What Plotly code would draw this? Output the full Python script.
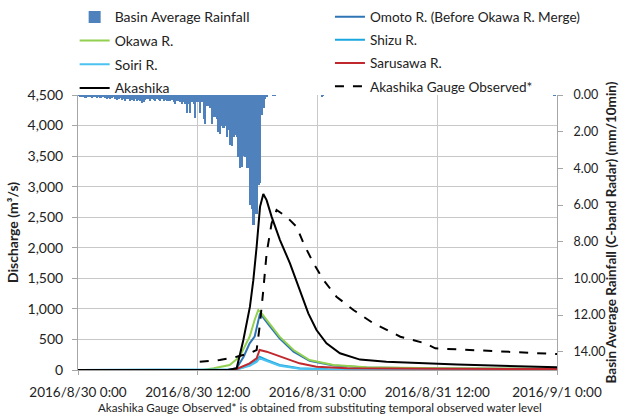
import pandas as pd
import plotly.graph_objects as go

START = pd.Timestamp("2016-08-30 00:00")

# ---------------- data ----------------
# Basin average rainfall (mm/10min), 10-minute steps from 2016/8/30 0:00
rain_values = [
    0.05, 0.1, 0.1, 0.1, 0.15, 0.1,
    0.1, 0.1, 0.15, 0.1, 0.1, 0.15,
    0.1, 0.15, 0.1, 0.1, 0.15, 0.2,
    0.15, 0.2, 0.15, 0.1, 0.2, 0.25,
    0.2, 0.15, 0.25, 0.2, 0.3, 0.2,
    0.2, 0.3, 0.25, 0.35, 0.2, 0.3,
    0.25, 0.3, 0.45, 0.4, 0.25, 0.2,
    0.2, 0.3, 0.2, 0.25, 0.3, 0.2,
    0.25, 0.3, 0.2, 0.35, 0.25, 0.3,
    0.3, 0.35, 0.25, 0.4, 0.5, 0.35,
    0.3, 0.4, 0.5, 0.4, 0.5, 1.0,
    0.5, 1.0, 0.4, 0.5, 1.25, 0.4,
    0.4, 1.0, 0.4, 1.3, 1.6, 0.6,
    0.6, 0.7, 1.6, 1.2, 1.2, 1.3,
    2.0, 2.1, 1.7, 1.8, 1.7, 2.3,
    1.9, 2.7, 2.8, 2.3, 2.2, 2.3,
    3.4, 4.0, 3.9, 3.3, 3.4, 4.0,
    4.0, 6.0, 6.2, 7.1, 6.5, 6.5,
    4.9, 4.8, 1.1, 0.7, 0.2, 0.1,
]
rain_blip_times = ["2016-08-30 19:30", "2016-08-30 19:40", "2016-08-31 00:20",
                   "2016-08-31 00:30", "2016-08-31 23:40"]
rain_blip_values = [0.05, 0.05, 0.06, 0.05, 0.05]

# Discharge series: hours after 2016/8/30 0:00 and discharge (m3/s)
akashika_h = [0, 15.0, 15.9, 16.57, 17.23, 17.57, 17.9, 18.24, 18.57, 18.9, 19.4, 20.24,
              21.24, 22.24, 23.08, 23.9, 24.9, 26.25, 28.26, 30.9, 34.0, 38.0, 48.0]
akashika_q = [0, 0, 28, 490, 1036, 1470, 2017, 2670, 2880, 2780, 2510, 2127,
              1745, 1309, 927, 654, 437, 273, 170, 135, 115, 90, 45]

observed_h = [12.2, 14.2, 15.9, 17.2, 17.9, 18.2, 18.57, 18.9, 19.4, 19.9, 20.9, 21.9,
              22.6, 23.6, 24.6, 25.9, 27.6, 29.6, 32.3, 34.8, 35.8, 40.0, 44.0, 48.0]
observed_q = [136, 164, 218, 273, 327, 709, 1309, 1909, 2400, 2618, 2508, 2345,
              2073, 1745, 1472, 1200, 982, 764, 545, 436, 355, 320, 290, 260]

okawa_h = [0, 12.5, 13.6, 15.2, 16.2, 17.2, 17.7, 18.07, 18.4, 19.2, 20.2, 21.6,
           23.2, 25.6, 28.9, 36.0, 48.0]
okawa_q = [0, 0, 28, 82, 218, 545, 818, 982, 927, 764, 545, 327,
           164, 82, 44, 30, 20]

omoto_h = [0, 15.0, 15.9, 16.6, 17.2, 17.7, 18.24, 18.7, 19.2, 20.2, 21.6, 23.2,
           25.6, 28.9, 36.0, 48.0]
omoto_q = [0, 0, 30, 218, 436, 545, 927, 818, 720, 520, 300, 150,
           75, 40, 25, 15]

sarusawa_h = [0, 15.2, 15.9, 17.2, 17.9, 18.2, 18.9, 19.9, 21.2, 22.2, 23.9, 27.0, 36.0, 48.0]
sarusawa_q = [0, 0, 16, 109, 191, 327, 300, 245, 164, 109, 55, 30, 20, 15]

shizu_h = [0, 15.2, 15.9, 17.2, 17.9, 18.2, 18.9, 20.2, 22.2, 25.0, 36.0, 48.0]
shizu_q = [0, 0, 10, 82, 150, 218, 164, 82, 27, 12, 5, 3]

soiri_h = [0, 15.2, 15.9, 17.2, 17.9, 18.2, 18.9, 20.2, 22.2, 25.0, 36.0, 48.0]
soiri_q = [0, 0, 8, 70, 130, 190, 145, 70, 22, 10, 4, 2]

x_tickvals = ["2016-08-30 00:00", "2016-08-30 12:00", "2016-08-31 00:00",
              "2016-08-31 12:00", "2016-09-01 00:00"]
x_ticktext = ["2016/8/30 0:00", "2016/8/30 12:00", "2016/8/31 0:00",
              "2016/8/31 12:00", "2016/9/1 0:00"]
y_tickvals = [0, 500, 1000, 1500, 2000, 2500, 3000, 3500, 4000, 4500]
y2_tickvals = [0, 2, 4, 6, 8, 10, 12, 14]

note_text = "Akashika Gauge Observed* is obtained from substituting temporal observed water level"


def to_time(hours):
    return [START + pd.Timedelta(hours=h) for h in hours]


rain_times = [START + pd.Timedelta(minutes=10 * i + 5) for i in range(len(rain_values))]
rain_times += [pd.Timestamp(t) + pd.Timedelta(minutes=5) for t in rain_blip_times]
rain_all = rain_values + rain_blip_values

FONT = "Lato"
GRID = "#c8c8c8"
TXT = "#222222"

fig = go.Figure()

fig.add_trace(go.Bar(
    x=rain_times, y=rain_all, yaxis="y2", name="Basin Average Rainfall",
    marker=dict(color="#4f81bd", line=dict(width=0)), width=760000,
    legend="legend", legendgroup="a",
))

lines = [
    ("Omoto R. (Before Okawa R. Merge)", omoto_h, omoto_q, "#2e75b6", "solid", "legend2", "b"),
    ("Okawa R.", okawa_h, okawa_q, "#92d050", "solid", "legend", "c"),
    ("Shizu R.", shizu_h, shizu_q, "#1aa7e0", "solid", "legend2", "d"),
    ("Soiri R.", soiri_h, soiri_q, "#4cc2f0", "solid", "legend", "e"),
    ("Sarusawa R.", sarusawa_h, sarusawa_q, "#c0282d", "solid", "legend2", "f"),
    ("Akashika", akashika_h, akashika_q, "#000000", "solid", "legend", "g"),
    ("Akashika Gauge Observed*", observed_h, observed_q, "#000000", "dash", "legend2", "h"),
]
for name, hh, qq, col, dash, leg, grp in lines:
    fig.add_trace(go.Scatter(
        x=to_time(hh), y=qq, mode="lines", name=name,
        line=dict(color=col, width=2, dash=dash),
        legend=leg, legendgroup=grp,
    ))

fig.update_layout(
    width=619, height=416,
    margin=dict(l=78, r=62, t=95, b=46, autoexpand=False),
    paper_bgcolor="white", plot_bgcolor="white",
    font=dict(family=FONT, size=14, color=TXT),
    bargap=0,
    showlegend=True,
    xaxis=dict(
        type="date",
        range=["2016-08-30 00:00", "2016-09-01 00:00"],
        tickmode="array", tickvals=x_tickvals, ticktext=x_ticktext,
        tickfont=dict(family=FONT, size=13.5, color=TXT),
        tickangle=0, automargin=False,
        ticklabelstandoff=6,
        showgrid=True, gridcolor=GRID, gridwidth=1,
        showline=True, linecolor="#a6a6a6", linewidth=1,
        ticks="outside", ticklen=4, tickcolor="#a6a6a6",
        zeroline=False,
    ),
    yaxis=dict(
        range=[0, 4500], automargin=False,
        tickmode="array", tickvals=y_tickvals, tickformat=",",
        tickfont=dict(family=FONT, size=14, color=TXT),
        ticklabelstandoff=6,
        showgrid=True, gridcolor=GRID, gridwidth=1,
        showline=True, linecolor="#a6a6a6", linewidth=1,
        ticks="outside", ticklen=5, tickcolor="#a6a6a6",
        zeroline=False,
        title=dict(text="<b>Discharge (m³/s)</b>", font=dict(family=FONT, size=14, color=TXT),
                   standoff=5),
    ),
    yaxis2=dict(
        overlaying="y", side="right", automargin=False,
        range=[15, 0],
        tickmode="array", tickvals=y2_tickvals, tickformat=".2f",
        tickfont=dict(family=FONT, size=12.5, color=TXT),
        ticklabelstandoff=8,
        showgrid=False,
        showline=True, linecolor="#a6a6a6", linewidth=1,
        ticks="outside", ticklen=5, tickcolor="#a6a6a6",
        zeroline=False,
        title=dict(text="<b>Basin Average Rainfall (C-band Radar) (mm/10min)</b>",
                   font=dict(family=FONT, size=13.5, color=TXT), standoff=20),
    ),
    legend=dict(
        x=-0.007, y=1.3407, xanchor="left", yanchor="top",
        orientation="v", tracegroupgap=2.5, bgcolor="rgba(0,0,0,0)",
        font=dict(family=FONT, size=14, color=TXT),
        itemwidth=30,
    ),
    legend2=dict(
        x=0.526, y=1.3407, xanchor="left", yanchor="top",
        orientation="v", tracegroupgap=2.5, bgcolor="rgba(0,0,0,0)",
        font=dict(family=FONT, size=13.6, color=TXT),
        itemwidth=30,
    ),
    annotations=[dict(
        text=note_text, x=0.505, y=-0.138, xref="paper", yref="paper",
        xanchor="center", yanchor="middle", showarrow=False,
        font=dict(family=FONT, size=11.6, color=TXT),
    )],
)

fig.write_html("out.html")
